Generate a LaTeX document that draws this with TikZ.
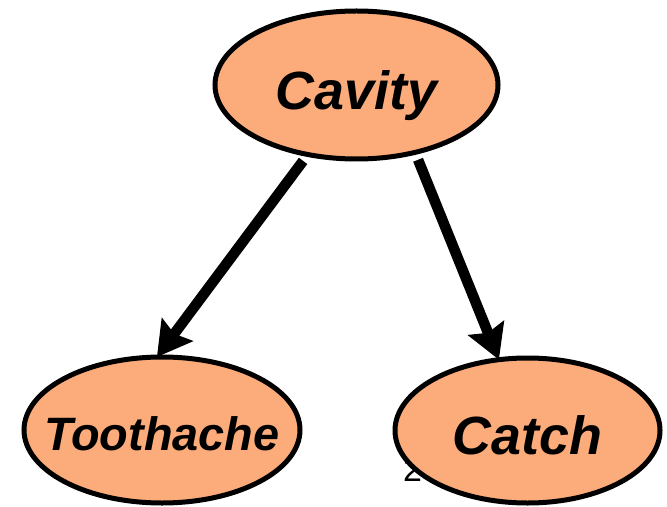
\documentclass[tikz,border=0pt]{standalone}
\usepackage{fontspec}
\setmainfont{Liberation Sans}
\usetikzlibrary{shapes.geometric,arrows.meta}
\definecolor{nodefill}{RGB}{252,171,122}
\newcommand{\vlabel}[2]{\makebox[0pt]{\smash{\raisebox{-#1}{#2}}}}
\tikzset{
  varnode/.style={ellipse, draw=black, line width=5bp, fill=nodefill,
    inner sep=0pt, outer sep=0pt},
  edge/.style={line width=10.5bp, line cap=butt, shorten <=8bp,
    -{Stealth[length=34bp,width=38bp,inset=5bp]}}
}
\begin{document}
\begin{tikzpicture}[x=1bp,y=-1bp]
  \useasboundingbox (0,0) rectangle (667,507);
  % stray slide number, mostly covered by the Catch node
  \node[anchor=base west, font=\fontsize{34}{34}\selectfont, inner sep=0pt] (pagenum) at (403,481) {2};
  \node[varnode, minimum width=283bp, minimum height=148bp,
        font=\fontsize{54}{54}\selectfont\bfseries\itshape] (cav) at (356.5,85)
        {\vlabel{25bp}{Cavity}};
  \node[varnode, minimum width=276bp, minimum height=146bp,
        font=\fontsize{47}{47}\selectfont\bfseries\itshape] (tooth) at (162,430)
        {\vlabel{20bp}{Toothache}};
  \node[varnode, minimum width=265bp, minimum height=145bp,
        font=\fontsize{54}{54}\selectfont\bfseries\itshape] (catch) at (527.5,430.5)
        {\vlabel{24bp}{Catch}};
  \draw[edge] (cav.235) -- (tooth.94);
  \draw[edge] (cav.311) -- (catch.112);
\end{tikzpicture}
\end{document}
